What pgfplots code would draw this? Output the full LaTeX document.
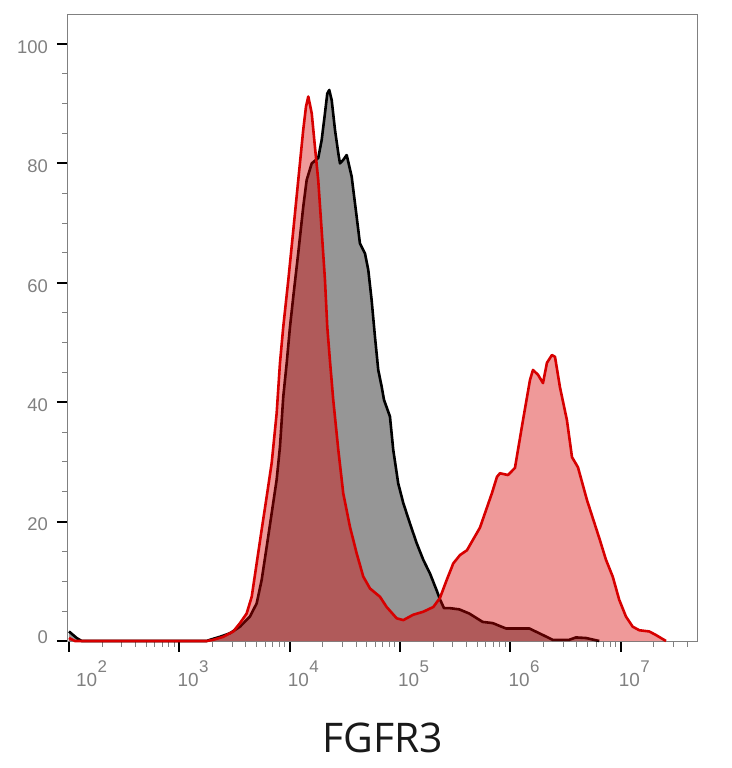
\documentclass[border=0pt]{standalone}
\usepackage{pgfplots}
\pgfplotsset{compat=1.18}
\usepackage{pgfplotstable}
\usepackage{fontspec}
\setmainfont{Liberation Sans}
\newfontfamily\titlefont{Open Sans}
\definecolor{ticklab}{RGB}{128,128,128}
\definecolor{axisgray}{RGB}{128,128,128}
\definecolor{fillgray}{RGB}{150,150,150}
\definecolor{redline}{RGB}{215,0,0}
\newcommand\sups[1]{\hspace{0.5bp}\raisebox{14bp}{\fontsize{17}{17}\selectfont #1}}

% x = log10(intensity), y = count
\pgfplotstableread{
x y
2.000 1.6
2.070 0.5
2.115 0
3.248 0
3.278 0.2
3.368 0.7
3.459 1.3
3.550 2.4
3.640 4.1
3.701 6.3
3.746 10.2
3.792 15.8
3.837 21.4
3.882 27.0
3.912 32.5
3.942 40.9
3.973 46.5
4.003 52.6
4.033 57.7
4.078 65.0
4.123 72.7
4.154 77.2
4.200 80.0
4.259 80.9
4.290 83.9
4.320 88.4
4.341 91.7
4.359 92.3
4.381 90.6
4.411 85.6
4.441 81.7
4.456 80.0
4.486 80.6
4.517 81.4
4.562 77.8
4.607 71.1
4.637 66.6
4.683 64.9
4.713 62.1
4.743 57.1
4.773 51.0
4.803 45.4
4.834 42.6
4.855 40.4
4.909 37.6
4.939 32.0
4.984 26.4
5.030 23.1
5.090 19.7
5.151 16.4
5.211 13.6
5.272 11.3
5.332 8.5
5.362 7.0
5.399 5.5
5.453 5.5
5.537 5.3
5.628 4.6
5.749 3.2
5.840 3.0
5.960 2.1
6.172 2.1
6.262 1.3
6.384 0.2
6.534 0.2
6.595 0.6
6.686 0.5
6.806 0
}\blacktab

\pgfplotstableread{
x y
2.000 0.5
2.054 0
3.248 0
3.308 0.2
3.398 0.7
3.489 1.6
3.550 3.0
3.610 4.6
3.656 7.4
3.701 13.0
3.746 18.6
3.792 24.2
3.837 29.8
3.882 38.1
3.912 46.5
3.942 52.6
3.988 60.5
4.033 68.8
4.078 77.2
4.123 85.6
4.148 89.5
4.169 91.2
4.200 88.4
4.229 82.8
4.259 77.2
4.290 68.8
4.320 60.5
4.341 52.6
4.365 47.0
4.395 40.4
4.441 32.0
4.486 24.7
4.547 19.1
4.607 14.7
4.667 10.8
4.728 8.8
4.819 7.4
4.879 5.7
4.970 3.8
5.030 3.5
5.120 4.4
5.211 4.9
5.302 5.7
5.362 7.2
5.423 10.2
5.483 13.0
5.544 14.4
5.607 15.2
5.725 19.0
5.834 24.8
5.879 27.5
5.906 28.1
5.979 27.8
6.042 29.0
6.115 37.0
6.178 43.7
6.205 45.4
6.251 44.6
6.296 43.2
6.332 46.6
6.377 47.9
6.405 47.6
6.450 42.5
6.513 37.0
6.559 30.8
6.613 29.1
6.695 23.6
6.812 16.9
6.867 13.6
6.928 10.8
6.987 6.9
7.048 4.1
7.109 2.4
7.169 1.8
7.259 1.6
7.320 1.0
7.411 0
}\redtab

\begin{document}
\begin{tikzpicture}
\useasboundingbox (-68bp,-127bp) rectangle (664bp,641bp);
\begin{axis}[
  at={(0,0)}, anchor=south west,
  scale only axis, width=629bp, height=626.85bp,
  xmin=1.991, xmax=7.692, ymin=0, ymax=105,
  clip=false,
  axis line style={draw=axisgray, line width=1bp},
  tick align=outside,
  xtick pos=bottom, ytick pos=left,
  major tick length=11bp, minor tick length=5.5bp,
  major tick style={black, line width=1.8bp},
  minor tick style={axisgray, line width=0.9bp},
  xtick={2,3,4,5,6,7},
  xticklabels={\hspace*{9bp}10\sups{2},10\sups{3},10\sups{4},10\sups{5},10\sups{6},10\sups{7}},
  minor xtick={2.30103,2.47712,2.60206,2.69897,2.77815,2.84510,2.90309,2.95424,
               3.30103,3.47712,3.60206,3.69897,3.77815,3.84510,3.90309,3.95424,
               4.30103,4.47712,4.60206,4.69897,4.77815,4.84510,4.90309,4.95424,
               5.30103,5.47712,5.60206,5.69897,5.77815,5.84510,5.90309,5.95424,
               6.30103,6.47712,6.60206,6.69897,6.77815,6.84510,6.90309,6.95424,
               7.30103,7.47712,7.60206},
  ytick={0,20,40,60,80,100},
  yticklabels={\raisebox{7bp}[\height][\depth]{0},20,40,60,80,100},
  minor y tick num=3,
  xticklabel style={font=\fontsize{19}{20}\selectfont, text=ticklab, anchor=base west, inner sep=0pt, xshift=-2bp, yshift=-35bp},
  yticklabel style={font=\fontsize{18.5}{20}\selectfont, text=ticklab, anchor=east, inner sep=0pt, xshift=-9bp, yshift=-3bp},
  xlabel={FGFR3},
  xlabel style={font=\titlefont\fontsize{41}{44}\selectfont, text=black!90, at={(axis description cs:0.5,0)}, anchor=base, yshift=-111bp},
]
\addplot[draw=none, fill=fillgray] table[x=x,y=y]{\blacktab} \closedcycle;
\addplot[black, line width=2.6bp, line join=round] table[x=x,y=y]{\blacktab};
\addplot[draw=none, fill=redline, fill opacity=0.4] table[x=x,y=y]{\redtab} \closedcycle;
\addplot[redline, line width=2.6bp, line join=round] table[x=x,y=y]{\redtab};
\end{axis}
\end{tikzpicture}
\end{document}
